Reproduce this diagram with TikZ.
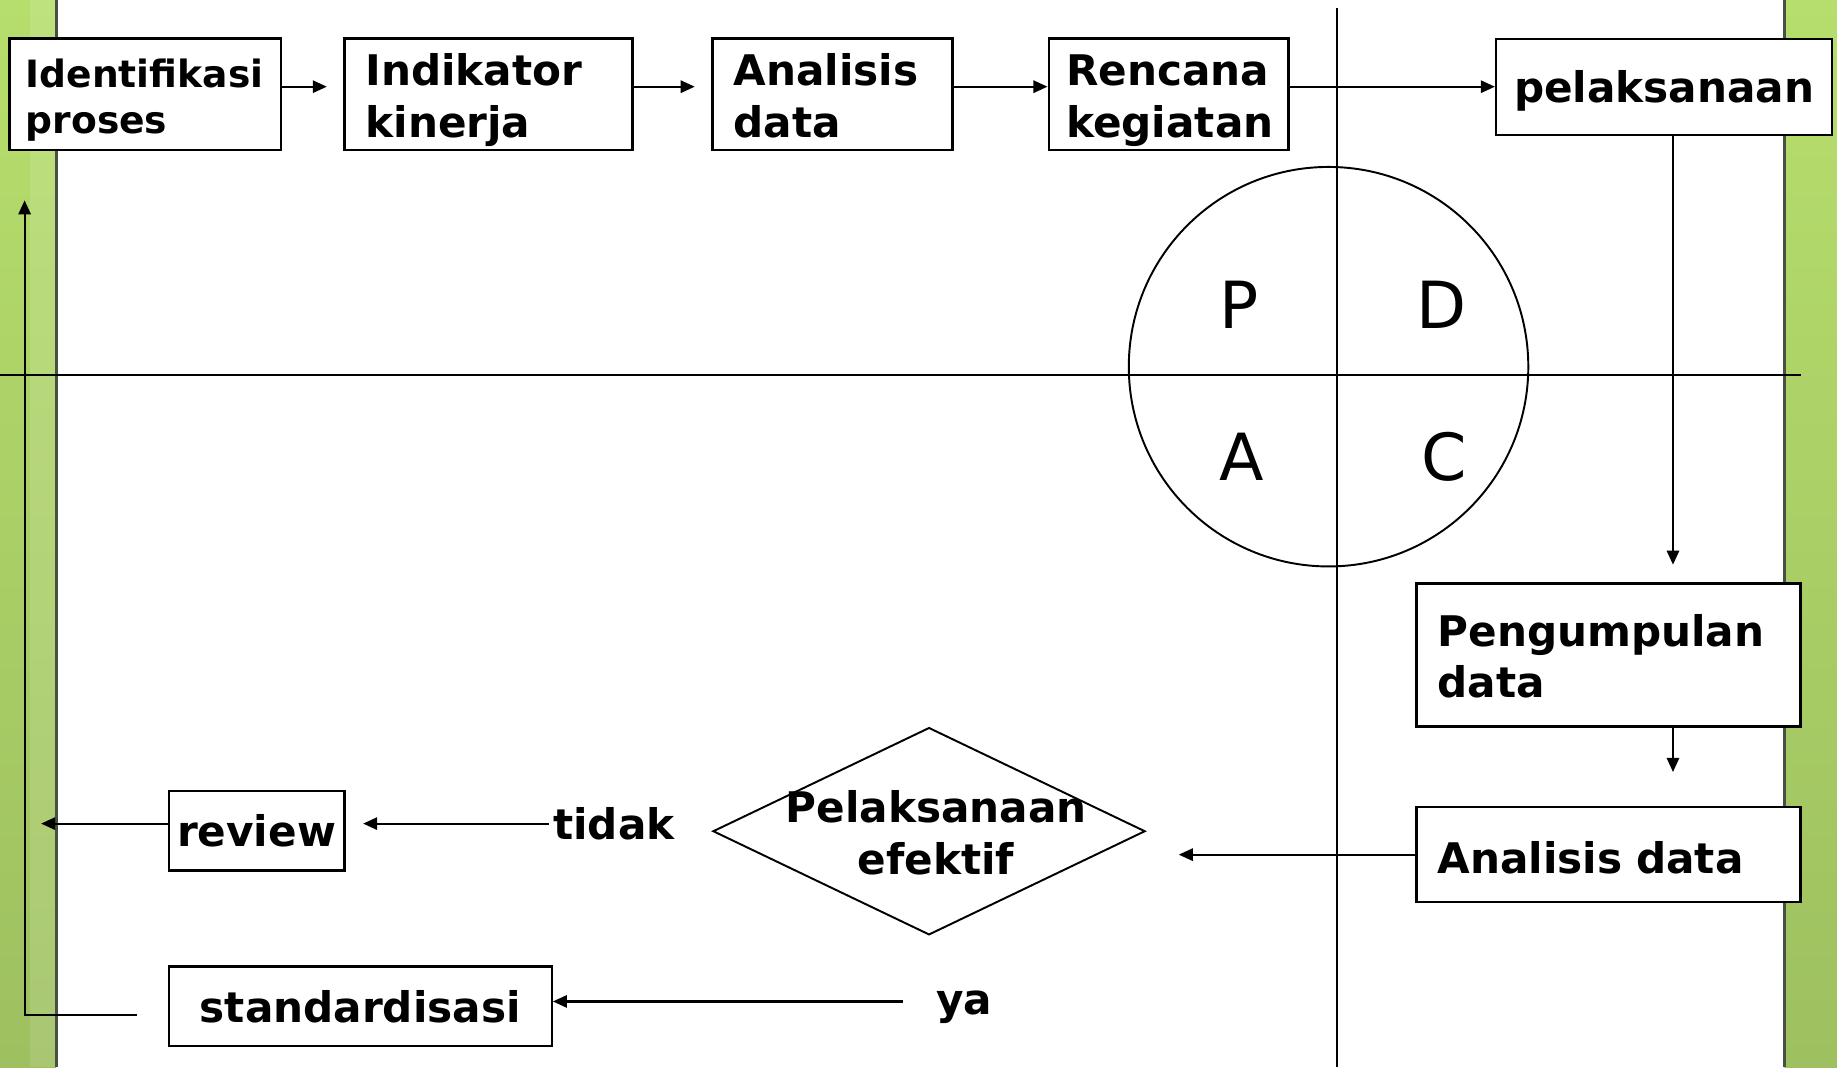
\documentclass[tikz,border=0pt]{standalone}
\usepackage{fontspec}
\setmainfont{DejaVu Sans}
\usetikzlibrary{positioning,shapes.geometric,arrows.meta}
\hyphenpenalty=10000
\exhyphenpenalty=10000

\definecolor{hijau}{RGB}{182,222,108}
\definecolor{hijaubawah}{RGB}{158,192,96}
\definecolor{tepi}{RGB}{72,80,68}

\begin{document}
\begin{tikzpicture}[
    x=0.011716cm, y=-0.011716cm,
    box/.style={draw, fill=white, line width=0.65pt, inner ysep=0pt, align=left},
    tebal/.style={font=\bfseries\fontsize{12}{14.7}\selectfont},
    teks/.style={inner sep=1pt},
    huruf/.style={font=\fontsize{18.5}{20}\selectfont, inner sep=0pt},
    arr/.style={-{Triangle[length=4pt,width=3.5pt]}, line width=0.6pt},
    garis/.style={line width=0.55pt}
]
  \useasboundingbox (0,0) rectangle (1568,911);

  % 背景绿条
  \fill[top color=hijau, bottom color=hijaubawah] (0,0) rectangle (48,911);
  \fill[white, opacity=0.12] (26,0) rectangle (48,911);
  \draw[tepi, line width=0.8pt] (48,0) -- (48,911);
  \fill[top color=hijau, bottom color=hijaubawah] (1523,0) rectangle (1568,911);
  \draw[tepi, line width=0.8pt] (1523,0) -- (1523,911);

  % 坐标轴与圆
  \draw[garis] (1141,7) -- (1141,911);
  \draw[garis] (0,320) -- (1537,320);
  \node[circle, draw, line width=0.55pt, minimum size=113.7pt, inner sep=0pt] (pdca) at (1134,313) {};
  \node[huruf] (hp) at (1058,260) {P};
  \node[huruf] (hd) at (1230,260) {D};
  \node[huruf] (ha) at (1060,390) {A};
  \node[huruf] (hc) at (1233,390) {C};

  % 定义方框位置
  \node[box, font=\bfseries\fontsize{10.7}{13}\selectfont, text height=0pt, text depth=3.6pt, inner xsep=4.67pt, text width=68pt, minimum height=31.7pt] (ident) at (124,80.5) {Identifikasi\\proses};
  \node[box, tebal, text height=0pt, text depth=4.9pt, inner xsep=6pt, text width=70pt, minimum height=31.7pt] (indik) at (417,80.5) {Indikator\\kinerja};
  \node[box, tebal, text height=0pt, text depth=4.9pt, inner xsep=6pt, text width=56.3pt, minimum height=31.7pt] (anal) at (710.5,80.5) {Analisis\\data};
  \node[box, tebal, text height=0pt, text depth=4.9pt, inner xsep=5pt, text width=58.3pt, minimum height=31.7pt] (renc) at (997.5,80.5) {Rencana\\kegiatan};
  \node[box, tebal, align=center, text height=9.1pt, text depth=0pt, minimum width=95.7pt, minimum height=27.3pt] (pelak) at (1420.5,74) {pelaksanaan};
  \node[box, tebal, text height=0pt, text depth=4.9pt, inner xsep=6pt, text width=97.3pt, minimum height=40.7pt] (kumpul) at (1373,559) {Pengumpulan\\data};
  \node[box, tebal, text height=10.5pt, text depth=0pt, inner xsep=6pt, text width=97.3pt, minimum height=27pt] (analdata) at (1373,729.5) {Analisis data};
  \node[draw, diamond, line width=0.55pt, inner sep=0pt, minimum width=123pt, minimum height=59pt] (cek) at (793,709.5) {};
  \node[tebal, align=center, inner sep=0pt] (cekteks) at (799,711) {Pelaksanaan\\efektif};
  \node[box, tebal, align=center, inner xsep=2pt, minimum width=50pt, minimum height=22.7pt] (review) at (219,709) {review};
  \node[box, tebal, align=center, minimum width=109pt, minimum height=22.7pt] (standar) at (307.5,859) {standardisasi};
  \node[teks, tebal] (tidak) at (524,703) {tidak};
  \node[teks, tebal, anchor=base] (ya) at (823,866) {ya};

  \coordinate (jalur) at (1428,115);
  \coordinate (b1) at (117,866);
  \coordinate (b2) at (21,866);

  % 绘制有向边
  \draw[arr, shorten >=4.7pt] (ident.east |- pelak) -- (indik.west |- pelak);
  \draw[arr, shorten >=4.7pt] (indik.east |- pelak) -- (anal.west |- pelak);
  \draw[arr] (anal.east |- pelak) -- (renc.west |- pelak);
  \draw[arr] (renc.east |- pelak) -- (pelak.west);
  \draw[arr, shorten >=5pt] (jalur) -- (jalur |- kumpul.north);
  \draw[arr, shorten >=9.7pt] (jalur |- kumpul.south) -- (jalur |- analdata.north);
  \draw[arr, shorten >=9.3pt] (analdata.west) -- (analdata.west -| cek.east);
  \draw[arr, shorten >=5pt] (tidak.west) -- (tidak.west -| review.east);
  \draw[arr, shorten >=4.7pt] (review.west |- tidak.west) -- (b2 |- tidak.west);
  \draw[arr, shorten <=8.3pt] ([yshift=1pt]ya.mid west) -- ([yshift=1pt]ya.mid west -| standar.east);
  \draw[arr, shorten >=14pt] (b1) -- (b2) -- (b2 |- ident.south);
\end{tikzpicture}
\end{document}
